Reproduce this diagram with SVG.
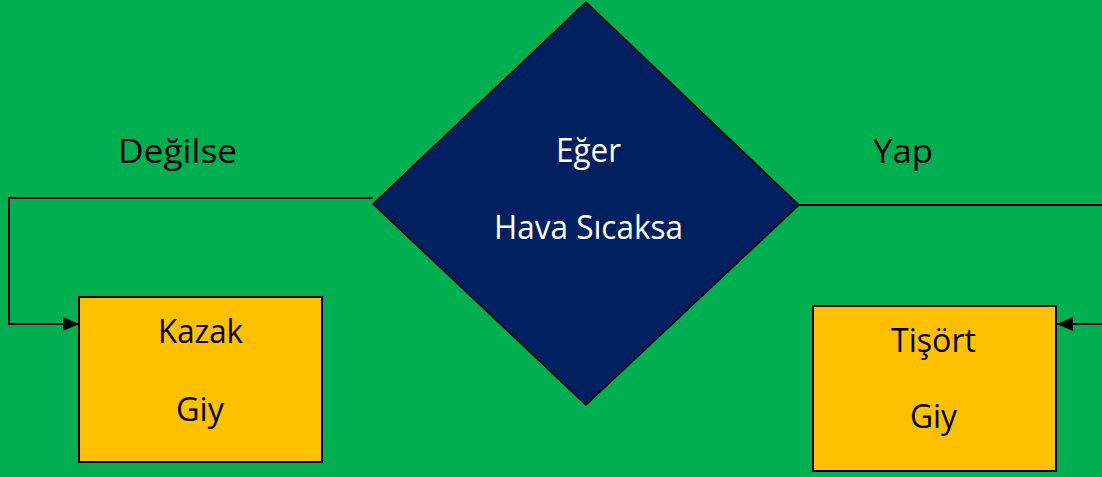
<svg xmlns="http://www.w3.org/2000/svg" width="1102" height="477" viewBox="0 0 1102 477">
  <defs>
    <marker id="arrow" viewBox="0 0 16 14" refX="16" refY="7" markerWidth="16" markerHeight="14" markerUnits="userSpaceOnUse" orient="auto">
      <path d="M0 0 L16 7 L0 14 Z" fill="#000"/>
    </marker>
    <style>
      .lbl { font-family: "Open Sans", "Noto Sans", sans-serif; font-size: 32px; text-anchor: middle; }
      .dark { fill: #000; }
      .light { fill: #fff; }
      .box { fill: #FFC000; stroke: #000; stroke-width: 2; }
      .wire { fill: none; stroke: #000; stroke-width: 2; }
    </style>
  </defs>

  <rect width="1102" height="477" fill="#00B050"/>

  <g id="connectors">
    <path class="wire" d="M373 198 H9 V324 H79" marker-end="url(#arrow)"/>
    <path class="wire" d="M799 205 H1106 V324 H1057" marker-end="url(#arrow)"/>
    <text class="lbl dark" x="177.5" y="163" textLength="119" lengthAdjust="spacingAndGlyphs">Değilse</text>
    <text class="lbl dark" x="903" y="163" textLength="60" lengthAdjust="spacingAndGlyphs">Yap</text>
  </g>

  <g id="decision">
    <polygon points="586,2 799,205 586,405 373,204" fill="#002060" stroke="#000" stroke-width="1.5"/>
    <text class="lbl light" x="588.5" y="162" textLength="65" lengthAdjust="spacingAndGlyphs">Eğer</text>
    <text class="lbl light" x="588.5" y="239" textLength="189" lengthAdjust="spacingAndGlyphs">Hava Sıcaksa</text>
  </g>

  <g id="kazak">
    <rect class="box" x="79" y="297" width="243" height="165"/>
    <text class="lbl dark" x="200.5" y="343" textLength="85" lengthAdjust="spacingAndGlyphs">Kazak</text>
    <text class="lbl dark" x="200" y="421" textLength="48" lengthAdjust="spacingAndGlyphs">Giy</text>
  </g>

  <g id="tisort">
    <rect class="box" x="813" y="306" width="243" height="165"/>
    <text class="lbl dark" x="933.5" y="352" textLength="85" lengthAdjust="spacingAndGlyphs">Tişört</text>
    <text class="lbl dark" x="933.5" y="428" textLength="47" lengthAdjust="spacingAndGlyphs">Giy</text>
  </g>
</svg>
